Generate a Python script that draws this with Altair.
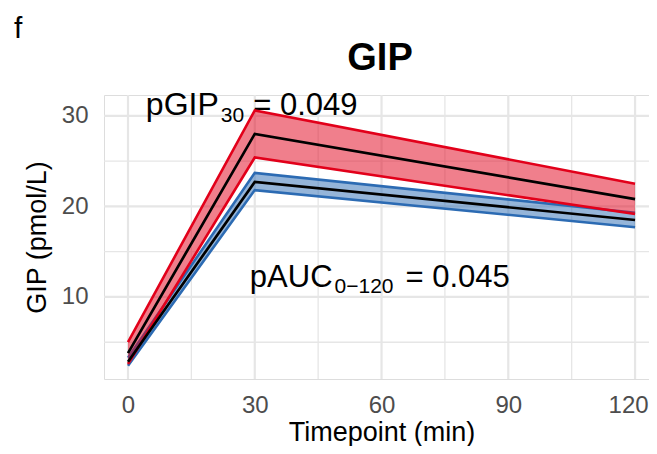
import altair as alt
import pandas as pd

# ---------------- data ----------------
timepoints = [0, 30, 120]

red_mean = [3.8, 28.0, 20.8]
red_lower = [2.6, 25.4, 19.15]
red_upper = [5.0, 30.6, 22.5]

blue_mean = [2.85, 22.7, 18.5]
blue_lower = [2.4, 21.8, 17.7]
blue_upper = [3.3, 23.7, 19.3]

group_names = ["High", "Low"]
group_colors = ["#E2001A", "#2C6BB3"]

x_ticks = [0, 30, 60, 90, 120]
x_minor = [15, 45, 75, 105]
y_ticks = [10, 20, 30]
y_minor = [5, 15, 25]

ann_x = [30, 60]
ann_y = [31, 12]
ann_prefix = ["pGIP", "pAUC"]
ann_sub = ["30", "0\u2212120"]
ann_value = ["= 0.049", "= 0.045"]

panel_tag = ["f"]
chart_title = ["GIP"]
FONT = "Liberation Sans"

# ---------------- tables ----------------
rib_rows = []
bound_rows = []
for g, means, los, his in [
    (group_names[0], red_mean, red_lower, red_upper),
    (group_names[1], blue_mean, blue_lower, blue_upper),
]:
    for t, m, lo, hi in zip(timepoints, means, los, his):
        rib_rows.append({"time": t, "group": g, "mean": m, "lo": lo, "hi": hi})
        bound_rows.append({"time": t, "group": g, "bound": "lo", "value": lo})
        bound_rows.append({"time": t, "group": g, "bound": "hi", "value": hi})
rib = pd.DataFrame(rib_rows)
bounds = pd.DataFrame(bound_rows)

xs = alt.Scale(domain=[-5.68, 123.3], nice=False, zero=False)
ys = alt.Scale(domain=[0.94, 32.3], nice=False, zero=False)
cscale = alt.Scale(domain=group_names, range=group_colors)

x_axis = alt.Axis(
    values=x_ticks, title="Timepoint (min)", grid=False, ticks=False, tickSize=0,
    domain=False, labelFontSize=24, labelColor="#4D4D4D", labelFont=FONT,
    labelPadding=14,
    labelOffset={"condition": {"test": "datum.value === 120", "value": -7}, "value": 0},
    titleFontSize=27, titleColor="black", titleFont=FONT,
    titleFontWeight="normal", titleX=277.5, titleY=61, titleBaseline="alphabetic",
)
y_axis = alt.Axis(
    values=y_ticks, title="GIP (pmol/L)", grid=False, ticks=False, tickSize=0,
    domain=False, labelFontSize=24, labelColor="#4D4D4D", labelFont=FONT,
    labelPadding=16, titleFontSize=27, titleColor="black", titleFont=FONT,
    titleFontWeight="normal", titleX=-59, titleY=142, titleAngle=270,
    titleBaseline="alphabetic",
)


def X(field):
    return alt.X(field, scale=xs, axis=x_axis)


def Y(field):
    return alt.Y(field, scale=ys, axis=y_axis)


# ---------------- grid ----------------
def vgrid(vals, w):
    return alt.Chart(pd.DataFrame({"v": vals})).mark_rule(
        color="#E6E6E6", strokeWidth=w
    ).encode(x=X("v:Q"))


def hgrid(vals, w):
    return alt.Chart(pd.DataFrame({"v": vals})).mark_rule(
        color="#E6E6E6", strokeWidth=w
    ).encode(y=Y("v:Q"))


grid = alt.layer(vgrid(x_minor, 1.3), hgrid(y_minor, 1.3), vgrid(x_ticks, 2.2), hgrid(y_ticks, 2.2))

# ---------------- annotations ----------------
def piece(i, field, dx, dy, size, align):
    df = pd.DataFrame({"x": [ann_x[i]], "y": [ann_y[i]], "t": [
        {"p": ann_prefix, "s": ann_sub, "v": ann_value}[field][i]]})
    return alt.Chart(df).mark_text(
        font=FONT, fontSize=size, color="black", align=align,
        baseline="alphabetic", dx=dx, dy=dy
    ).encode(x=X("x:Q"), y=Y("y:Q"), text="t:N")


annotations = alt.layer(
    piece(0, "p", -36, 8.7, 32, "right"),
    piece(0, "s", -34, 15, 21, "left"),
    piece(0, "v", -1.5, 8.7, 31, "left"),
    piece(1, "p", -49, 8.3, 31, "right"),
    piece(1, "s", -47, 14.5, 21, "left"),
    piece(1, "v", 24, 8.3, 31, "left"),
)

tag = alt.Chart(pd.DataFrame({"t": panel_tag})).mark_text(
    font=FONT, fontSize=30, color="black", align="left", baseline="alphabetic"
).encode(x=alt.value(-90), y=alt.value(-57), text="t:N")

title = alt.Chart(pd.DataFrame({"t": chart_title})).mark_text(
    font=FONT, fontSize=38, fontWeight="bold", color="black", align="center",
    baseline="alphabetic"
).encode(x=alt.value(276), y=alt.value(-25), text="t:N")

# ---------------- ribbons and lines ----------------
def ribbon(g):
    return alt.Chart(rib[rib.group == g]).mark_area(opacity=0.5).encode(
        x=X("time:Q"),
        y=Y("lo:Q"),
        y2="hi:Q",
        color=alt.Color("group:N", scale=cscale, legend=None),
    )


def bound_lines(g):
    return alt.Chart(bounds[bounds.group == g]).mark_line(strokeWidth=2.6).encode(
        x=X("time:Q"),
        y=Y("value:Q"),
        color=alt.Color("group:N", scale=cscale, legend=None),
        detail="bound:N",
    )


mean_lines = alt.Chart(rib).mark_line(strokeWidth=2.7, color="black").encode(
    x=X("time:Q"),
    y=Y("mean:Q"),
    detail="group:N",
)

chart = alt.layer(
    grid,
    annotations,
    ribbon(group_names[1]),
    bound_lines(group_names[1]),
    ribbon(group_names[0]),
    bound_lines(group_names[0]),
    mean_lines,
    tag,
    title,
).properties(
    width=545,
    height=284,
    autosize=alt.AutoSizeParams(type="none"),
    padding={"left": 96, "top": 87, "right": 0, "bottom": 67},
).configure_view(strokeWidth=0, stroke="transparent").configure(background="white")

chart.save("out.html", embed_options={"renderer": "svg", "actions": False})
